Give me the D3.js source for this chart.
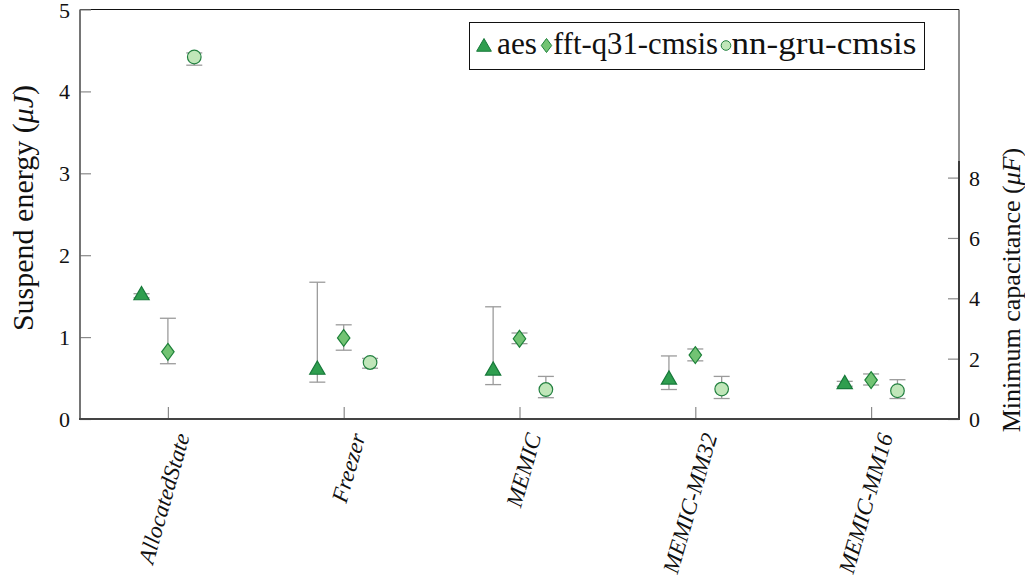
<!DOCTYPE html>
<html>
<head>
<meta charset="utf-8">
<script src="https://cdn.jsdelivr.net/npm/d3@7/dist/d3.min.js"></script>
<style>
  html, body { margin: 0; padding: 0; background: #fff; }
  svg { display: block; }
</style>
</head>
<body>
<svg id="chart" width="1025" height="578"></svg>
<script>
// Memory-management schemes on the x axis
const categories = ["AllocatedState", "Freezer", "MEMIC", "MEMIC-MM32", "MEMIC-MM16"];
const seriesNames = ["aes", "fft-q31-cmsis", "nn-gru-cmsis"];

// Suspend energy (µJ): mean, lower and upper whisker per scheme
const aesEnergy = [1.51, 0.60, 0.59, 0.48, 0.425];
const aesLow    = [1.48, 0.45, 0.42, 0.36, 0.40];
const aesHigh   = [1.53, 1.67, 1.37, 0.77, 0.46];

const fftEnergy = [0.82, 0.99, 0.98, 0.78, 0.475];
const fftLow    = [0.675, 0.84, 0.92, 0.71, 0.415];
const fftHigh   = [1.23, 1.15, 1.05, 0.855, 0.55];

const nnEnergy  = [4.42, 0.69, 0.36, 0.365, 0.345];
const nnLow     = [4.32, 0.62, 0.26, 0.25, 0.25];
const nnHigh    = [4.47, 0.74, 0.52, 0.52, 0.48];

const energyTicks = [0, 1, 2, 3, 4, 5];
const capTicks = [0, 2, 4, 6, 8];

(function draw() {
  const FONT = "Liberation Serif";
  const svg = d3.select("#chart");

  const plotLeft = 80, plotRight = 959, plotTop = 9.5, plotBottom = 419;

  const x = d3.scaleLinear().domain([-0.5, categories.length - 0.5]).range([plotLeft, plotRight]);
  const y = d3.scaleLinear().domain([0, 5]).range([plotBottom, plotTop]);
  const yCap = d3.scaleLinear().domain([0, 8.55]).range([plotBottom, 161]);

  const series = [
    { name: seriesNames[0], mean: aesEnergy, lo: aesLow, hi: aesHigh, shift: -0.15,
      symbol: "triangle", fill: "#2f9e4f", stroke: "#17793a" },
    { name: seriesNames[1], mean: fftEnergy, lo: fftLow, hi: fftHigh, shift: 0,
      symbol: "diamond", fill: "#72c373", stroke: "#1d8139" },
    { name: seriesNames[2], mean: nnEnergy, lo: nnLow, hi: nnHigh, shift: 0.15,
      symbol: "circle", fill: "#c0e6b9", stroke: "#238140" }
  ];

  function markerPath(kind, r) {
    if (kind === "triangle") {
      const h = r * Math.sqrt(3) / 2;
      return `M0,${-r}L${h},${r / 2}L${-h},${r / 2}Z`;
    }
    if (kind === "diamond") {
      const w = r * 0.74;
      return `M0,${-r}L${w},0L0,${r}L${-w},0Z`;
    }
    return d3.arc()({ innerRadius: 0, outerRadius: r, startAngle: 0, endAngle: 2 * Math.PI });
  }
  const markerSize = { triangle: 8.8, diamond: 8.4, circle: 6.8 };

  // plot frame: top and right edges are thin black lines
  svg.append("line").attr("x1", plotLeft).attr("x2", plotRight).attr("y1", plotTop).attr("y2", plotTop)
    .attr("stroke", "#111").attr("stroke-width", 1.2);
  svg.append("line").attr("x1", plotRight).attr("x2", plotRight).attr("y1", plotTop).attr("y2", plotBottom)
    .attr("stroke", "#222").attr("stroke-width", 1);

  // left energy axis
  const yAxis = d3.axisRight(y).tickValues(energyTicks).tickSize(11).tickFormat("");
  const gy = svg.append("g").attr("transform", `translate(${plotLeft},0)`).call(yAxis);
  gy.select(".domain").remove();
  gy.selectAll(".tick line").attr("stroke", "#8a8a8a").attr("stroke-width", 1.2);
  svg.append("line").attr("x1", plotLeft).attr("x2", plotLeft).attr("y1", plotTop).attr("y2", plotBottom + 1)
    .attr("stroke", "#666").attr("stroke-width", 1.8);
  svg.selectAll(".ylab").data(energyTicks).join("text")
    .attr("class", "ylab")
    .attr("x", 70).attr("y", d => y(d) + 8)
    .attr("text-anchor", "end")
    .attr("font-family", FONT).attr("font-size", 22).attr("fill", "#111")
    .text(d => d);

  // right capacitance axis
  const yCapAxis = d3.axisLeft(yCap).tickValues(capTicks).tickSize(11).tickFormat("");
  const gc = svg.append("g").attr("transform", `translate(${plotRight},0)`).call(yCapAxis);
  gc.select(".domain").remove();
  gc.selectAll(".tick line").attr("stroke", "#8a8a8a").attr("stroke-width", 1.2);
  svg.append("line").attr("x1", plotRight).attr("x2", plotRight).attr("y1", yCap.range()[1]).attr("y2", plotBottom + 1)
    .attr("stroke", "#333").attr("stroke-width", 1.8);
  svg.selectAll(".clab").data(capTicks).join("text")
    .attr("class", "clab")
    .attr("x", 969).attr("y", d => yCap(d) + 8)
    .attr("text-anchor", "start")
    .attr("font-family", FONT).attr("font-size", 22).attr("fill", "#111")
    .text(d => d);

  // bottom category axis
  const xAxis = d3.axisTop(x).tickValues(d3.range(categories.length)).tickSize(12).tickFormat("");
  const gx = svg.append("g").attr("transform", `translate(0,${plotBottom})`).call(xAxis);
  gx.select(".domain").remove();
  gx.selectAll(".tick line").attr("stroke", "#8a8a8a").attr("stroke-width", 1.2);
  svg.append("line").attr("x1", plotLeft - 1).attr("x2", plotRight + 1).attr("y1", plotBottom).attr("y2", plotBottom)
    .attr("stroke", "#444").attr("stroke-width", 1.8);

  svg.selectAll(".xlab").data(categories).join("text")
    .attr("class", "xlab")
    .attr("transform", (d, i) => `translate(${x(i) + 22},${plotBottom + 17}) rotate(-74)`)
    .attr("text-anchor", "end")
    .attr("font-family", FONT).attr("font-style", "italic").attr("font-size", 23).attr("fill", "#111")
    .text(d => d);

  // axis titles
  const yTitle = svg.append("text")
    .attr("transform", `translate(33,208) rotate(-90)`)
    .attr("text-anchor", "middle")
    .attr("font-family", FONT).attr("font-size", 30).attr("fill", "#111");
  yTitle.append("tspan").text("Suspend energy (");
  yTitle.append("tspan").attr("font-style", "italic").text("μJ");
  yTitle.append("tspan").text(")");

  const cTitle = svg.append("text")
    .attr("transform", `translate(1020,290) rotate(-90)`)
    .attr("text-anchor", "middle")
    .attr("font-family", FONT).attr("font-size", 26).attr("fill", "#111");
  cTitle.append("tspan").text("Minimum capacitance (");
  cTitle.append("tspan").attr("font-style", "italic").text("μF");
  cTitle.append("tspan").text(")");

  // whiskers
  const capHalf = 8;
  series.forEach(s => {
    const g = svg.append("g").attr("class", "whisk");
    categories.forEach((c, i) => {
      const cx = x(i + s.shift);
      g.append("line").attr("x1", cx).attr("x2", cx).attr("y1", y(s.lo[i])).attr("y2", y(s.hi[i]))
        .attr("stroke", "#9b9b9b").attr("stroke-width", 1.3);
      [s.lo[i], s.hi[i]].forEach(v => {
        g.append("line").attr("x1", cx - capHalf).attr("x2", cx + capHalf).attr("y1", y(v)).attr("y2", y(v))
          .attr("stroke", "#9b9b9b").attr("stroke-width", 1.3);
      });
    });
  });

  // markers
  series.forEach(s => {
    svg.append("g").selectAll("path").data(s.mean).join("path")
      .attr("transform", (v, i) => `translate(${x(i + s.shift)},${y(v)})`)
      .attr("d", markerPath(s.symbol, markerSize[s.symbol]))
      .attr("fill", s.fill).attr("stroke", s.stroke).attr("stroke-width", 1.2);
  });

  // legend
  const lg = svg.append("g");
  lg.append("rect").attr("x", 469.5).attr("y", 22.5).attr("width", 455).attr("height", 47)
    .attr("fill", "#fff").attr("stroke", "#111").attr("stroke-width", 1);
  const legendItems = [
    { s: series[0], mx: 484, my: 47, tx: 497, w: 40, r: 8.5 },
    { s: series[1], mx: 546.5, my: 45.5, tx: 553, w: 165, r: 7 },
    { s: series[2], mx: 726, my: 45.5, tx: 731.5, w: 185, r: 4.8 }
  ];
  legendItems.forEach(it => {
    lg.append("path")
      .attr("transform", `translate(${it.mx},${it.my})`)
      .attr("d", markerPath(it.s.symbol, it.r))
      .attr("fill", it.s.fill).attr("stroke", it.s.stroke).attr("stroke-width", 1);
    lg.append("text").attr("x", it.tx).attr("y", 54)
      .attr("font-family", FONT).attr("font-size", 32).attr("fill", "#111")
      .attr("textLength", it.w).attr("lengthAdjust", "spacingAndGlyphs")
      .text(it.s.name);
  });
})();
</script>
</body>
</html>
